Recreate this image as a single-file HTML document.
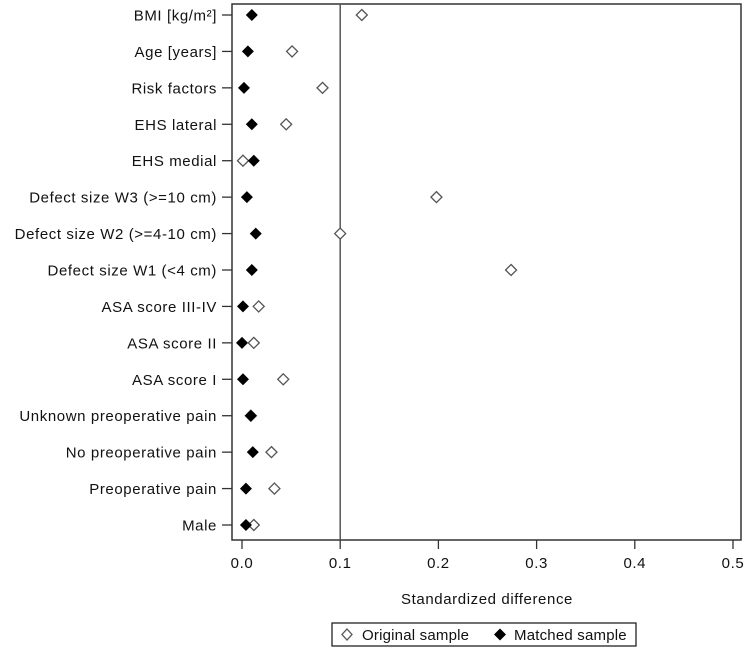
<!DOCTYPE html>
<html><head><meta charset="utf-8"><style>
body{margin:0;background:#fff;}
svg{display:block;font-family:"Liberation Sans",Arial,sans-serif;}
text{letter-spacing:0.6px;}
text.leg{letter-spacing:0.2px;}
</style></head><body>
<svg id="chart" width="750" height="657" viewBox="0 0 750 657">
<rect x="232" y="4" width="509" height="536" fill="none" stroke="#333" stroke-width="1.5"/>
<g id="axes"></g>
<g id="marks"></g>
<text x="487" y="604" font-size="15" text-anchor="middle" fill="#111">Standardized difference</text>
<g>
<rect x="332" y="623" width="304" height="23" fill="#fff" stroke="#111" stroke-width="1.2"/>
<path d="M347 629 L352 634.5 L347 640 L342 634.5 Z" fill="#fff" stroke="#555" stroke-width="1.3"/>
<text class="leg" x="362" y="640" font-size="15" fill="#111">Original sample</text>
<path d="M500 628.5 L506 634.5 L500 640.5 L494 634.5 Z" fill="#000"/>
<text class="leg" x="514" y="640" font-size="15" fill="#111">Matched sample</text>
</g>
</svg>
<script>
const categories=["BMI [kg/m²]","Age [years]","Risk factors","EHS lateral","EHS medial","Defect size W3 (>=10 cm)","Defect size W2 (>=4-10 cm)","Defect size W1 (<4 cm)","ASA score III-IV","ASA score II","ASA score I","Unknown preoperative pain","No preoperative pain","Preoperative pain","Male"];
const original=[0.122,0.051,0.082,0.045,0.001,0.198,0.100,0.274,0.017,0.012,0.042,0.009,0.030,0.033,0.012];
const matched=[0.010,0.006,0.002,0.010,0.012,0.005,0.014,0.010,0.001,0.000,0.001,0.009,0.011,0.004,0.004];
const xTicks=[0,0.1,0.2,0.3,0.4,0.5];
const xTickLabels=["0.0","0.1","0.2","0.3","0.4","0.5"];
const refLine=0.1;
const NS="http://www.w3.org/2000/svg";
function xs(v){return 242+v*982;}
function ys(i){return 15+i*(510/(categories.length-1));}
function mk(tag,attrs,parent){const e=document.createElementNS(NS,tag);for(const k in attrs)e.setAttribute(k,attrs[k]);parent.appendChild(e);return e;}
const axes=document.getElementById('axes'),marks=document.getElementById('marks');
xTicks.forEach((t,i)=>{
 const l=mk('line',{x1:xs(t),x2:xs(t),y1:540,y2:549,stroke:'#333','stroke-width':1.3},axes);
 
 
 const tx=mk('text',{x:xs(t),y:568,'font-size':15,'text-anchor':'middle',fill:'#111'},axes);
 tx.textContent=xTickLabels[i];
 
 
});
const rl=mk('line',{x1:xs(refLine),x2:xs(refLine),y1:4,y2:540,stroke:'#555','stroke-width':1.5},axes);


categories.forEach((c,i)=>{
 const y=ys(i);
 const l=mk('line',{x1:222,x2:232,y1:y,y2:y,stroke:'#333','stroke-width':1.3},axes);
 
 
 const tx=mk('text',{x:217,y:y+5.5,'font-size':15,'text-anchor':'end',fill:'#111'},axes);
 tx.textContent=c;
 
 
 const ox=xs(original[i]);
 const o=mk('path',{d:`M${ox} ${y-5.5} L${ox+5.5} ${y} L${ox} ${y+5.5} L${ox-5.5} ${y} Z`,fill:'#fff',stroke:'#555','stroke-width':1.3},marks);
 
 
 const mx=xs(matched[i]);
 const m=mk('path',{d:`M${mx} ${y-6} L${mx+6} ${y} L${mx} ${y+6} L${mx-6} ${y} Z`,fill:'#000'},marks);
 
 
});
</script>
</body></html>
